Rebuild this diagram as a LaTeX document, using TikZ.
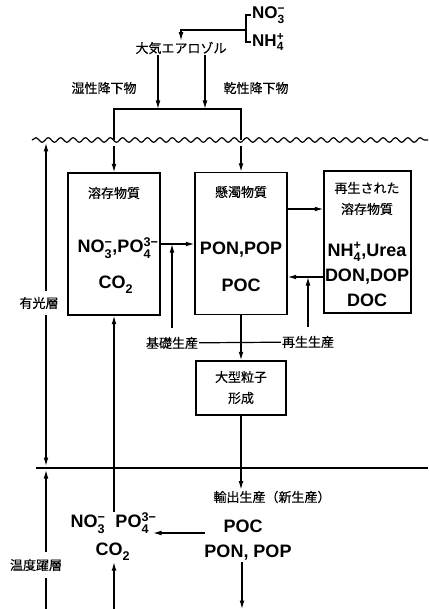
\documentclass[tikz,border=0pt]{standalone}
\usepackage{amsmath}
\usepackage{fontspec}
\setmainfont{Liberation Sans}
\newfontfamily\jpfont[FakeBold=0.4]{Noto Sans CJK JP}
\usetikzlibrary{arrows.meta,decorations.pathmorphing}
\newcommand{\chemion}[3]{#1$_{\text{#2}}^{\text{#3}}$}
\tikzset{
  ar/.style={-{Latex[length=8.5pt,width=4.8pt]},line width=1.2pt},
  ln/.style={line width=1.2pt},
  bx/.style={draw,line width=1.4pt,minimum width=92pt,minimum height=142pt,inner sep=0pt},
  jt/.style={font=\jpfont\fontsize{13}{15}\selectfont,inner sep=1pt},
  ct/.style={font=\fontsize{18}{20}\selectfont\bfseries,inner sep=1pt}
}
\begin{document}
\begin{tikzpicture}[x=1pt,y=-1pt]
\useasboundingbox (0,0) rectangle (428,609);
\node[ct,anchor=west,font=\fontsize{17}{19}\selectfont\bfseries] (no3t) at (251,15) {\chemion{NO}{3}{−}};
\node[ct,anchor=west,font=\fontsize{17}{19}\selectfont\bfseries] (nh4t) at (251,42) {\chemion{NH}{4}{+}};
\node[jt] (aero) at (181,48) {大気エアロゾル};
\coordinate (bm) at (246,30);
\draw[ln] (no3t.west) -| (bm) |- (nh4t.west); \draw[ar] (bm) -| (aero.north);
\node[jt] (wet) at (104,88) {湿性降下物}; \node[jt] (dry) at (256,88) {乾性降下物};
\coordinate (bl) at (114,109); \coordinate (br) at (241,109);
\coordinate (w1) at (158,109); \coordinate (d1) at (205,109);
\draw[ar] (aero.south -| w1) -- (w1); \draw[ar] (aero.south -| d1) -- (d1);
\coordinate (ws) at (32,140); \coordinate (we) at (428,140);
\draw[ln,decorate,decoration={snake,amplitude=2.3pt,segment length=12.4pt}] (ws) -- (we);
\draw[ln] (bl |- ws) -- (bl) -- (br) -- (br |- ws);
\node[bx] (box1) at (114,244) {}; \node[bx] (box2) at (241,243.5) {};
\node[bx,minimum width=87pt] (box3) at (367.5,242) {};
\node[bx,minimum width=90pt,minimum height=54pt] (box4) at (241,388) {};
\draw[ar,shorten <=6pt] (bl |- ws) -- (box1.north); \draw[ar,shorten <=6pt] (br |- ws) -- (box2.north);
\node[jt] (t1) at (114,193) {溶存物質};
\node[ct] (c1) at (118,248) {\chemion{NO}{3}{−},\chemion{PO}{4}{3−}};
\node[ct] (c1b) at (116,285) {\chemion{CO}{2}{}};
\node[jt] (t2) at (241,192) {懸濁物質};
\node[ct] (c2) at (241,250) {PON,POP}; \node[ct] (c2b) at (241,285) {POC};
\node[jt] (t3a) at (367,188) {再生された}; \node[jt] (t3b) at (367,209) {溶存物質};
\node[ct] (c3a) at (367,252) {\chemion{NH}{4}{+},Urea};
\node[ct] (c3b) at (367,277) {DON,DOP}; \node[ct] (c3c) at (367,300) {DOC};
\node[jt] (t4a) at (241,377) {大型粒子}; \node[jt] (t4b) at (241,398) {形成};
\coordinate (r1) at (0,209); \coordinate (r2) at (0,277);
\draw[ar] (box1.east) -- (box2.west |- box1.east);
\draw[ar] (box2.east |- r1) -- (box3.west |- r1);
\draw[ar] (box3.west |- r2) -- (box2.east |- r2);
\node[jt] (kiso) at (172,343) {基礎生産}; \node[jt] (sai) at (308,342) {再生生産};
\draw[ln] (kiso) -- (sai);
\draw[ar] ([yshift=8pt]kiso.north) -- (kiso.north |- box1.east);
\draw[ar] ([yshift=8pt]sai.north) -- (sai.north |- r2);
\draw[ar] (box2.south) -- (box4.north);
\node[jt] (expo) at (272,497) {輸出生産（新生産）};
\draw[ar] (box4.south) -- (box4.south |- expo.north);
\coordinate (ts) at (36,468); \coordinate (te) at (428,468);
\draw[ln] (ts) -- (te);
\coordinate (lx) at (46,0);
\node[jt,inner sep=6pt] (yuko) at (39,303) {有光層};
\node[jt,inner sep=7pt] (onkyo) at (36,565) {温度躍層};
\coordinate (wvl) at (46,143); \coordinate (thu) at (46,466); \coordinate (thl) at (46,470); \coordinate (botl) at (46,609);
\draw[ar] (yuko.north -| lx) -- (wvl); \draw[ar] (yuko.south -| lx) -- (thu);
\draw[ar] (onkyo.north -| lx) -- (thl); \draw[ln] (botl) -- (onkyo.south -| lx);
\node[ct] (nut) at (113.5,523) {\chemion{NO}{3}{−}\ \ \chemion{PO}{4}{3−}};
\node[ct] (co2) at (113,552) {\chemion{CO}{2}{}};
\draw[ar] (nut.north -| box1.south) -- (box1.south);
\coordinate (bot1) at (114,609);
\draw[ar] (bot1) -- (co2.south -| bot1);
\node[ct] (poc) at (243,526) {POC}; \node[ct] (pp) at (248,553) {PON,\ POP};
\coordinate (bot2) at (242,609);
\draw[ar] (pp.south -| bot2) -- (bot2);
\coordinate (rr) at (205,533); \coordinate (rl) at (153,533);
\draw[ar] (rr) -- (rl);
\end{tikzpicture}
\end{document}
